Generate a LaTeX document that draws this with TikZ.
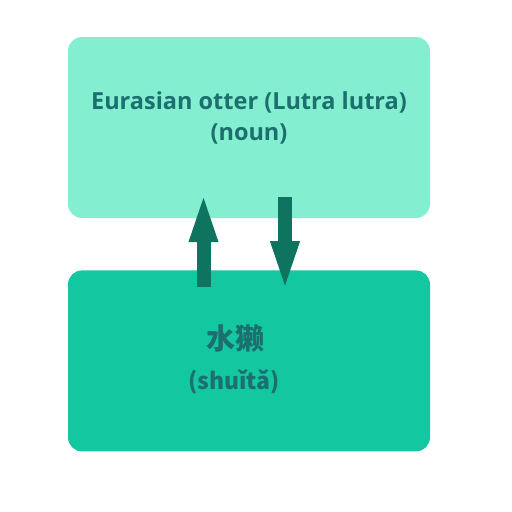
\documentclass[tikz,border=0pt]{standalone}
\usepackage{fontspec}
\setmainfont{Open Sans}
\newfontfamily\cjk{Noto Sans CJK SC}
\usepackage{tikz}
\usetikzlibrary{arrows.meta,positioning}

\definecolor{paleteal}{HTML}{84EFD0}
\definecolor{deepteal}{HTML}{13C8A1}
\definecolor{arrowteal}{HTML}{0E7460}
\definecolor{textteal}{HTML}{1B6F6E}

\begin{document}
\begin{tikzpicture}[x=1pt,y=-1pt,node distance=52pt,
        box/.style={rounded corners=14pt,minimum width=362pt,minimum height=181pt,inner sep=0pt},
        word/.style={text=textteal,font=\bfseries\fontsize{23.5}{31}\selectfont,inner sep=0pt,align=center},
        flow/.style={arrowteal,line width=14pt,-{Triangle[length=52pt,width=25pt]}}]

  \useasboundingbox (0,0) rectangle (512,512);

  \node[box,fill=paleteal] (eng) at (249,127.5) {};
  \node[box,fill=deepteal] (zh) [below=of eng] {};

  \node[word] (engname) at ([yshift=10pt]eng.center) {Eurasian otter (Lutra lutra)\\(noun)};
  \node[word,font=\cjk\bfseries\fontsize{29}{30}\selectfont] (zhname) at ([xshift=-14pt,yshift=22.5pt]zh.center) {水獭};
  \node[word,font=\cjk\bfseries\fontsize{23}{26}\selectfont] (pinyin) at ([xshift=-15pt,yshift=-20.5pt]zh.center) {(shuǐtǎ)};

  \draw[flow] ([xshift=-45.5pt,yshift=-17pt]zh.north) -- ([xshift=-45.5pt,yshift=28pt]eng.south);
  \draw[flow] ([xshift=36pt,yshift=21pt]eng.south) -- ([xshift=36pt,yshift=-23pt]zh.north);

\end{tikzpicture}
\end{document}
